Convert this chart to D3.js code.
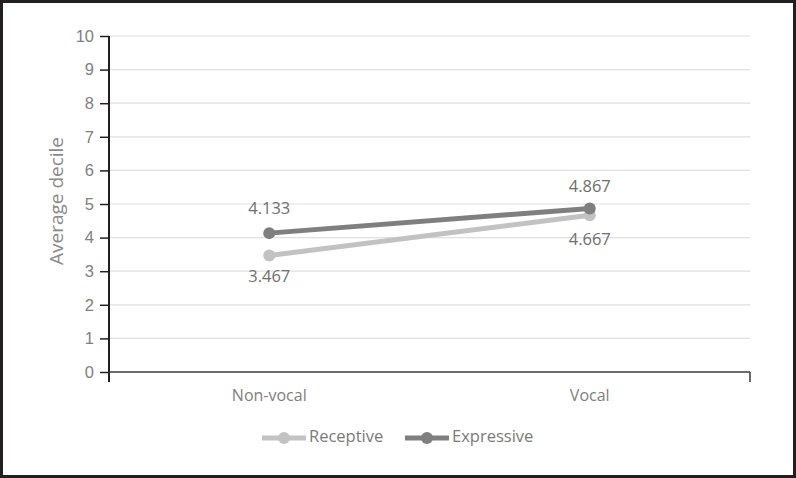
<!DOCTYPE html>
<html>
<head>
<meta charset="utf-8">
<script src="https://cdn.jsdelivr.net/npm/d3@7"></script>
<style>
  body { margin: 0; background: #fff; }
  svg { display: block; font-family: "Open Sans", "Noto Sans", sans-serif; }
</style>
</head>
<body>
<div id="chart"></div>
<script>
const categories = ["Non-vocal", "Vocal"];
const receptive = [3.467, 4.667];
const expressive = [4.133, 4.867];
const yTicks = [0, 1, 2, 3, 4, 5, 6, 7, 8, 9, 10];
const seriesNames = ["Receptive", "Expressive"];

const W = 796, H = 478;
const margin = { left: 109, right: 46, top: 36, bottom: 106 };
const width = W - margin.left - margin.right;
const height = H - margin.top - margin.bottom;

const svg = d3.select("#chart")
    .append("svg")
    .attr("width", W)
    .attr("height", H);

// dark frame
svg.append("rect")
    .attr("x", 1.5).attr("y", 1.5)
    .attr("width", W - 3).attr("height", H - 3)
    .attr("fill", "#fff")
    .attr("stroke", "#231f20")
    .attr("stroke-width", 3);

const chart = svg.append("g")
    .attr("transform", `translate(${margin.left}, ${margin.top})`);

const xScale = d3.scaleBand()
    .range([0, width])
    .domain(categories);

const yScale = d3.scaleLinear()
    .range([height, 0])
    .domain([0, 10]);

// grid
chart.append("g")
    .selectAll("line")
    .data(yTicks.slice(1))
    .enter()
    .append("line")
    .attr("x1", 0).attr("x2", width)
    .attr("y1", d => yScale(d)).attr("y2", d => yScale(d))
    .attr("stroke", "#e0e0e0")
    .attr("stroke-width", 1.2);

// y axis
const yAxis = chart.append("g")
    .call(d3.axisLeft(yScale).tickValues(yTicks).tickSize(9).tickPadding(6));
yAxis.select(".domain").remove();
yAxis.selectAll(".tick line").attr("stroke", "#231f20").attr("stroke-width", 1.5);
yAxis.selectAll("text")
    .attr("fill", "#808080")
    .style("font-size", "16.5px");
chart.append("line")
    .attr("x1", 0).attr("x2", 0)
    .attr("y1", 0).attr("y2", height + 10)
    .attr("stroke", "#231f20").attr("stroke-width", 2);

// x axis
chart.append("line")
    .attr("x1", 0).attr("x2", width)
    .attr("y1", height).attr("y2", height)
    .attr("stroke", "#3a3a3a").attr("stroke-width", 1.5);
chart.append("line")
    .attr("x1", width).attr("x2", width)
    .attr("y1", height).attr("y2", height + 10)
    .attr("stroke", "#3a3a3a").attr("stroke-width", 1.5);
chart.selectAll(".xlab")
    .data(categories)
    .enter()
    .append("text")
    .attr("x", d => xScale(d) + xScale.bandwidth() / 2)
    .attr("y", height + 29)
    .attr("text-anchor", "middle")
    .attr("fill", "#808080")
    .style("font-size", "16px")
    .text(d => d);

// y title
svg.append("text")
    .attr("transform", `translate(63, ${margin.top + height / 2 - 3}) rotate(-90)`)
    .attr("text-anchor", "middle")
    .attr("fill", "#8a8a8a")
    .style("font-size", "19px")
    .text("Average decile");

const series = [
    { name: seriesNames[0], values: receptive, color: "#c2c2c2", labelDy: [22, 25] },
    { name: seriesNames[1], values: expressive, color: "#7f7f80", labelDy: [-24, -21] }
];

const line = d3.line()
    .x((d, i) => xScale(categories[i]) + xScale.bandwidth() / 2)
    .y(d => yScale(d));

series.forEach(s => {
    chart.append("path")
        .datum(s.values)
        .attr("d", line)
        .attr("fill", "none")
        .attr("stroke", s.color)
        .attr("stroke-width", 5);
    chart.selectAll(null)
        .data(s.values)
        .enter()
        .append("circle")
        .attr("cx", (d, i) => xScale(categories[i]) + xScale.bandwidth() / 2)
        .attr("cy", d => yScale(d))
        .attr("r", 6)
        .attr("fill", s.color);
    chart.selectAll(null)
        .data(s.values)
        .enter()
        .append("text")
        .attr("x", (d, i) => xScale(categories[i]) + xScale.bandwidth() / 2)
        .attr("y", (d, i) => yScale(d) + s.labelDy[i])
        .attr("text-anchor", "middle")
        .attr("dominant-baseline", "middle")
        .attr("fill", "#6f6f6f")
        .style("font-size", "16.5px")
        .text(d => d.toFixed(3));
});

// legend
const legend = svg.append("g").attr("transform", "translate(262, 438)");
const legX = [0, 143];
series.forEach((s, i) => {
    const g = legend.append("g").attr("transform", `translate(${legX[i]}, 0)`);
    g.append("line")
        .attr("x1", 0).attr("x2", 44)
        .attr("stroke", s.color).attr("stroke-width", 5);
    g.append("circle").attr("cx", 22).attr("r", 6).attr("fill", s.color);
    g.append("text")
        .attr("x", 47)
        .attr("dominant-baseline", "middle")
        .attr("fill", "#7a7a7a")
        .style("font-size", "16.5px")
        .text(s.name);
});
</script>
</body>
</html>
